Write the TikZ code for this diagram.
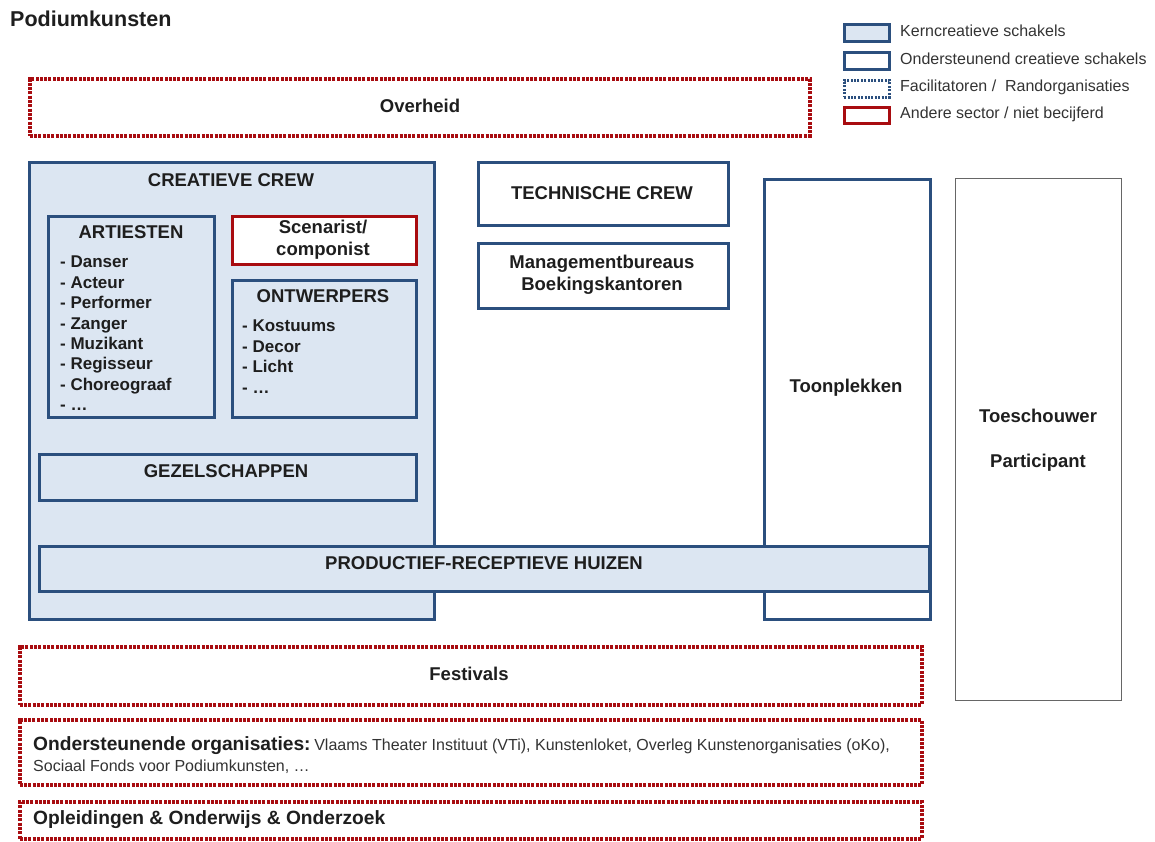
\documentclass[tikz,border=0pt]{standalone}
\usepackage{fontspec}
\setmainfont{Liberation Sans}
\definecolor{bblue}{HTML}{2B4F7E}
\definecolor{lblue}{HTML}{DCE6F2}
\definecolor{dred}{HTML}{A80C10}
\definecolor{tgray}{HTML}{1E1E1E}
\begin{document}
\begin{tikzpicture}[x=1pt,y=-1pt,
  box/.style={draw=bblue,line width=3pt,anchor=north west,inner sep=0pt,rectangle},
  kern/.style={box,fill=lblue},
  ond/.style={box,fill=white},
  fac/.style={draw=dred,line width=3.5pt,dash pattern=on 3pt off 1.3pt,anchor=north west,inner sep=0pt,rectangle,fill=white},
  andere/.style={draw=dred,line width=3pt,anchor=north west,inner sep=0pt,rectangle,fill=white},
  gray box/.style={draw=black!60,line width=1.2pt,anchor=north west,inner sep=0pt,rectangle,fill=white},
  lbl/.style={font=\fontsize{18.5}{22}\selectfont\bfseries,text=tgray,inner sep=0pt},
  lst/.style={font=\fontsize{17}{20.4}\selectfont\bfseries,text=tgray,inner sep=0pt,align=left,anchor=north west},
  small/.style={font=\fontsize{16}{19}\selectfont,text=black!80,inner sep=0pt},
  leg/.style={font=\fontsize{16}{19}\selectfont,text=black!80,inner sep=0pt,anchor=west}]
\useasboundingbox (0,0) rectangle (1155,841);
% title
\node[font=\fontsize{21.5}{25}\selectfont\bfseries,text=tgray,anchor=west,inner sep=0pt] (title) at (10,19) {Podiumkunsten};
% legend
\node[kern,line width=2.5pt,minimum width=45pt,minimum height=17pt] (lg1) at (843,23) {};
\node[ond,line width=2.5pt,minimum width=45pt,minimum height=17pt] (lg2) at (843,51) {};
\node[box,fill=white,line width=2.5pt,dash pattern=on 2pt off 1.4pt,minimum width=45pt,minimum height=17pt] (lg3) at (843,79) {};
\node[andere,line width=3pt,minimum width=45pt,minimum height=16pt] (lg4) at (843,106) {};
\node[leg] (lt1) at (900,31) {Kerncreatieve schakels};
\node[leg] (lt2) at (900,59) {Ondersteunend creatieve schakels};
\node[leg] (lt3) at (900,87) {Facilitatoren /\ \ Randorganisaties};
\node[leg] (lt4) at (900,114) {Andere sector / niet becijferd};
% Overheid
\node[fac,minimum width=780pt,minimum height=57pt] (overheid) at (28,77) {};
\node[lbl] (overheidt) at (420,106) {Overheid};
% Creatieve crew
\node[kern,minimum width=405pt,minimum height=457pt] (crew) at (28,161) {};
\node[lbl] (crewt) at (231,180) {CREATIEVE CREW};
\node[kern,minimum width=166pt,minimum height=201pt] (art) at (47,215) {};
\node[lbl] (artt) at (131,232) {ARTIESTEN};
\node[lst] (artl) at (60,256) {- Danser\\- Acteur\\- Performer\\- Zanger\\- Muzikant\\- Regisseur\\- Choreograaf\\- \dots};
\node[andere,minimum width=184pt,minimum height=48pt] (scen) at (231,215) {};
\node[lbl,align=center,font=\fontsize{18.5}{22}\selectfont\bfseries] (scent) at (323,240) {Scenarist/\\componist};
\node[kern,minimum width=184pt,minimum height=137pt] (ontw) at (231,279) {};
\node[lbl] (ontwt) at (323,296) {ONTWERPERS};
\node[lst] (ontwl) at (242,320) {- Kostuums\\- Decor\\- Licht\\- \dots};
\node[kern,minimum width=377pt,minimum height=46pt] (gez) at (38,453) {};
\node[lbl] (gezt) at (226,471) {GEZELSCHAPPEN};
% Technische crew, management
\node[ond,minimum width=250pt,minimum height=63pt] (tech) at (477,161) {};
\node[lbl] (techt) at (602,193) {TECHNISCHE CREW};
\node[ond,minimum width=250pt,minimum height=65pt] (mgmt) at (477,242) {};
\node[lbl,align=center] (mgmtt) at (602,275) {Managementbureaus\\Boekingskantoren};
% Toonplekken
\node[ond,minimum width=166pt,minimum height=440pt] (toon) at (763,178) {};
\node[lbl] (toont) at (846,388) {Toonplekken};
% Productief-receptieve huizen
\node[kern,minimum width=890pt,minimum height=45pt] (prod) at (38,545) {};
\node[lbl] (prodt) at (484,563) {PRODUCTIEF-RECEPTIEVE HUIZEN};
% Toeschouwer
\node[gray box,minimum width=166pt,minimum height=522pt] (toes) at (955,178) {};
\node[lbl] (toest1) at (1038,416) {Toeschouwer};
\node[lbl] (toest2) at (1038,463) {Participant};
% bottom
\node[fac,minimum width=902pt,minimum height=58pt] (fest) at (18,645) {};
\node[lbl] (festt) at (469,674) {Festivals};
\node[fac,minimum width=902pt,minimum height=65pt] (onder) at (18,718) {};
\node[anchor=base west,inner sep=0pt,text=tgray] (ondert) at (33,750) {{\fontsize{19.2}{22}\selectfont\bfseries Ondersteunende organisaties:} {\fontsize{16}{19}\selectfont\color{black!80}Vlaams Theater Instituut (VTi), Kunstenloket, Overleg Kunstenorganisaties (oKo),}};
\node[small,anchor=base west] (ondert2) at (33,771) {Sociaal Fonds voor Podiumkunsten, \dots};
\node[fac,minimum width=902pt,minimum height=37pt] (opl) at (18,800) {};
\node[lbl,font=\fontsize{19.2}{22}\selectfont\bfseries,anchor=west] (oplt) at (33,820) {Opleidingen \& Onderwijs \& Onderzoek};
\end{tikzpicture}
\end{document}
